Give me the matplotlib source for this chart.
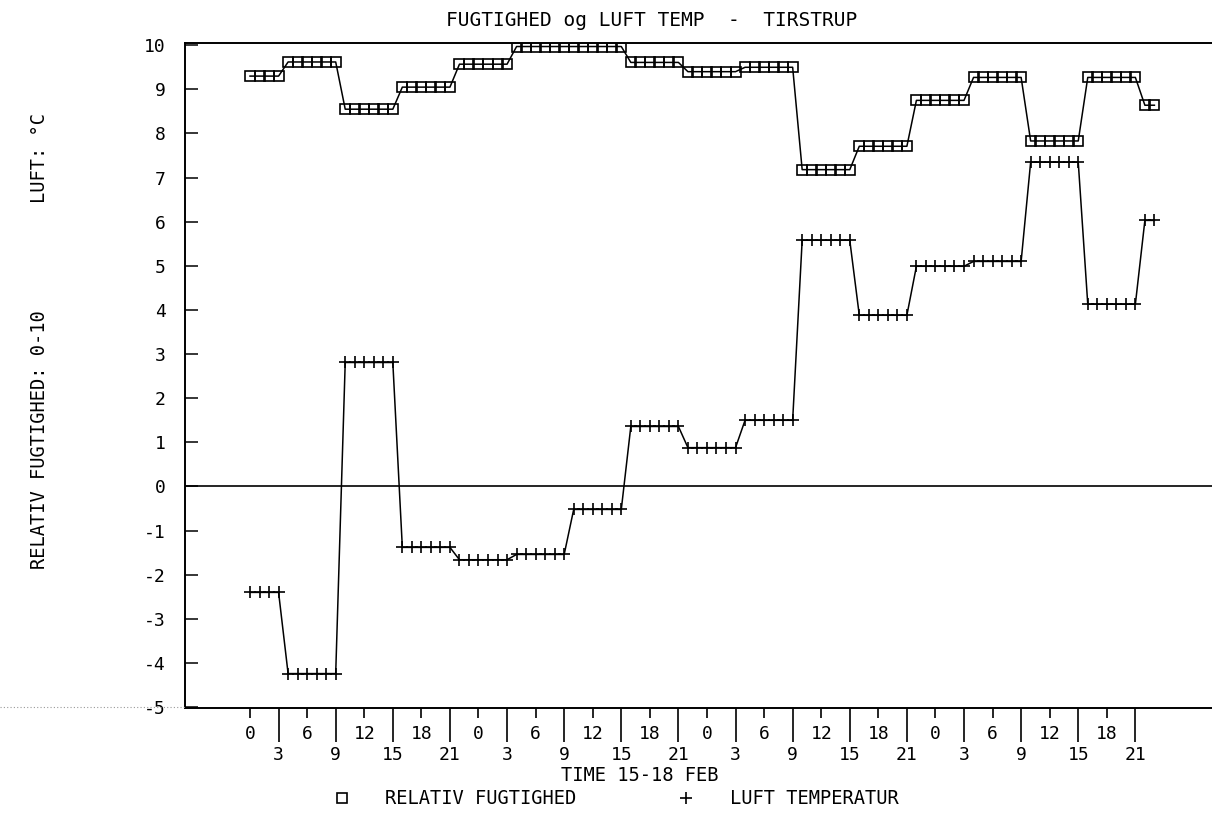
import numpy as np
import matplotlib.pyplot as plt
from matplotlib.lines import Line2D

# timer 0..95 (15.-18. feb), aflæst som 6-timers blokke
blok_laengde = [4] + [6] * 15 + [2]
fugtighed = [9.30, 9.62, 8.55, 9.05, 9.57, 9.97, 9.97, 9.61, 9.40, 9.50,
             7.18, 7.71, 8.75, 9.27, 7.83, 9.27, 8.64]
temperatur = [-2.40, -4.24, 2.81, -1.38, -1.66, -1.54, -0.52, 1.36, 0.88, 1.50,
              5.58, 3.88, 4.99, 5.10, 7.35, 4.13, 6.03]

time_labels = ["0", "3", "6", "9", "12", "15", "18", "21"] * 4
y_ticks = list(range(-5, 11))

timer = np.arange(sum(blok_laengde))
fugt = np.repeat(fugtighed, blok_laengde)
temp = np.repeat(temperatur, blok_laengde)

plt.rcParams['font.family'] = ['DejaVu Sans Mono']

W, H = 1212, 821
fig = plt.figure(figsize=(W / 100, H / 100), dpi=100)
ax = fig.add_axes([185 / W, 1 - 708 / H, 1 - 185 / W, 665 / H])

ax.plot(timer, fugt, color='black', lw=1.1, marker='s', ms=7.4,
        mfc='none', mec='black', mew=1.2)
ax.plot(timer, temp, color='black', lw=1.1, marker='+', ms=8.5, mew=1.2)
ax.axhline(0, color='black', lw=1.2)

ax.set_xlim(-6.83, 101.05)
ax.set_ylim(-5.02, 10.05)

for s in ['left', 'top', 'bottom']:
    ax.spines[s].set_linewidth(1.4)
ax.spines['right'].set_visible(False)

ax.set_yticks(y_ticks)
ax.set_yticklabels([str(v) for v in y_ticks])
ax.tick_params(axis='y', direction='in', length=9, width=1.1, pad=14, labelsize=13)

pos = np.arange(0, 96, 3)
ax.set_xticks(pos[1::2], time_labels[1::2])
ax.set_xticks(pos[0::2], time_labels[0::2], minor=True)
ax.tick_params(axis='x', which='major', direction='out', length=24.5, width=1.2,
               pad=3, labelsize=13)
ax.tick_params(axis='x', which='minor', direction='out', length=7, width=1.2,
               pad=5, labelsize=13)

fig.text(652 / W, 1 - 20 / H, "FUGTIGHED og LUFT TEMP  -  TIRSTRUP",
         ha='center', va='center', fontsize=14)
fig.text(640 / W, 1 - 775 / H, "TIME 15-18 FEB", ha='center', va='center',
         fontsize=13.5)
fig.text(40 / W, 1 - 158 / H, "LUFT: \u00b0C", rotation=90, ha='center',
         va='center', fontsize=13.5)
fig.text(40 / W, 1 - 440 / H, "RELATIV FUGTIGHED: 0-10", rotation=90,
         ha='center', va='center', fontsize=13.5)

# legende under figuren
fig.add_artist(Line2D([342 / W], [1 - 798 / H], marker='s', ms=7.5, mfc='none',
                      mec='black', mew=1.2, transform=fig.transFigure))
fig.text(385 / W, 1 - 798 / H, "RELATIV FUGTIGHED", ha='left', va='center',
         fontsize=13.5)
fig.add_artist(Line2D([686 / W], [1 - 798 / H], marker='+', ms=9, mec='black',
                      mew=1.2, transform=fig.transFigure))
fig.text(730 / W, 1 - 798 / H, "LUFT TEMPERATUR", ha='left', va='center',
         fontsize=13.5)

# svag prikket linje fra scanningen
fig.add_artist(Line2D([0, 185 / W], [1 - 707 / H, 1 - 707 / H], color='0.6',
                      lw=0.8, ls=(0, (1, 2)), transform=fig.transFigure))

fig.savefig("out.png", dpi=100)
